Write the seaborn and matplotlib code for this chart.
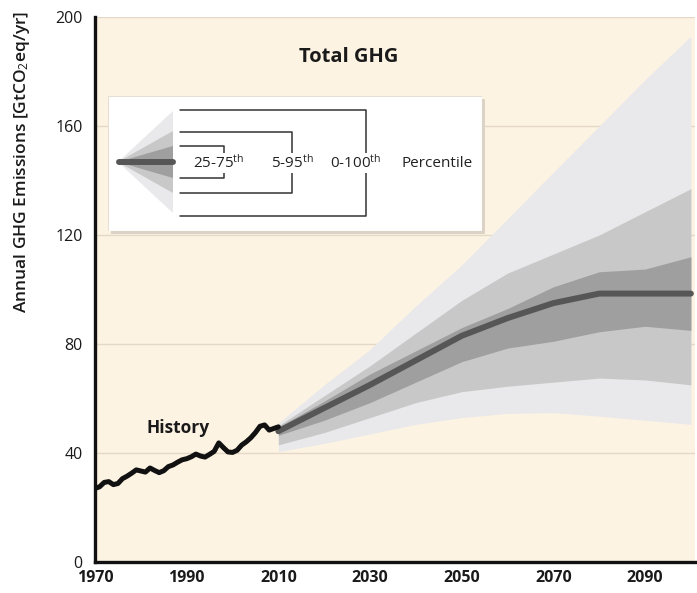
import matplotlib
matplotlib.use("Agg")
import matplotlib.pyplot as plt
import pandas as pd
import seaborn as sns
from matplotlib.patches import Polygon, Rectangle

# Historical emissions, GtCO2eq/yr
hist_years = list(range(1970, 2011))
hist_values = [27.0, 27.6, 29.2, 29.5, 28.4, 28.8, 30.6, 31.5, 32.6, 33.8,
               33.4, 33.0, 34.5, 33.6, 32.8, 33.5, 35.0, 35.6, 36.6, 37.5,
               37.9, 38.6, 39.6, 38.9, 38.5, 39.5, 40.6, 43.7, 42.0, 40.4,
               40.2, 41.0, 42.9, 44.1, 45.6, 47.5, 49.8, 50.3, 48.4, 49.0,
               49.6]

# Baseline scenario percentiles
proj_years = [2010, 2020, 2030, 2040, 2050, 2060, 2070, 2080, 2090, 2100]
p_min = [40.5, 43.5, 47.0, 50.5, 53.0, 54.5, 54.8, 53.5, 52.0, 50.5]
p05 = [43.0, 47.5, 53.0, 58.5, 62.5, 64.5, 66.0, 67.5, 66.8, 65.0]
p25 = [46.5, 52.0, 58.5, 66.0, 73.5, 78.5, 81.0, 84.5, 86.5, 85.0]
p50 = [48.0, 56.5, 65.0, 74.0, 83.0, 89.5, 95.0, 98.5, 98.5, 98.5]
p75 = [49.5, 59.0, 69.0, 77.5, 86.0, 93.0, 101.0, 106.5, 107.5, 112.0]
p95 = [50.0, 61.0, 72.0, 84.0, 96.0, 106.0, 113.0, 120.0, 128.5, 137.0]
p_max = [51.0, 65.0, 78.0, 94.0, 109.0, 126.0, 143.0, 160.0, 177.0, 193.0]

x_ticks = [1970, 1990, 2010, 2030, 2050, 2070, 2090]
y_ticks = [0, 40, 80, 120, 160, 200]

c_light = "#E9E9EB"
c_mid = "#C8C8C8"
c_dark = "#9F9F9F"
c_median = "#565656"
c_bg = "#FDF3E3"
c_grid = "#E4D8C6"

sns.set_style("white")
plt.rcParams["font.family"] = ["Open Sans", "DejaVu Sans"]
plt.rcParams["mathtext.fontset"] = "custom"
plt.rcParams["mathtext.rm"] = "Open Sans"
plt.rcParams["mathtext.it"] = "Open Sans:italic"
plt.rcParams["mathtext.bf"] = "Open Sans:bold"

W, H = 697, 593
fig = plt.figure(figsize=(W / 100, H / 100), dpi=100)
fig.patch.set_facecolor("white")
ax = fig.add_axes([95 / W, 31 / H, 600 / W, 545 / H])
ax.set_facecolor(c_bg)

hist = pd.DataFrame({"year": hist_years, "value": hist_values})
proj = pd.DataFrame({"year": proj_years, "pmin": p_min, "p05": p05,
                     "p25": p25, "p50": p50, "p75": p75, "p95": p95,
                     "pmax": p_max})

ax.fill_between(proj["year"], proj["pmin"], proj["pmax"], color=c_light,
                lw=0, zorder=2)
ax.fill_between(proj["year"], proj["p05"], proj["p95"], color=c_mid,
                lw=0, zorder=3)
ax.fill_between(proj["year"], proj["p25"], proj["p75"], color=c_dark,
                lw=0, zorder=4)
sns.lineplot(data=proj, x="year", y="p50", ax=ax, color=c_median, lw=4.3,
             zorder=5)
sns.lineplot(data=hist, x="year", y="value", ax=ax, color="#111111", lw=3.6,
             zorder=6)

ax.set_xlim(1970, 2100.9)
ax.set_ylim(0, 200)
ax.set_xticks(x_ticks)
ax.set_xticklabels([str(t) for t in x_ticks], fontweight="bold")
ax.set_yticks(y_ticks)
ax.set_yticklabels([str(t) for t in y_ticks])
ax.yaxis.grid(True, color=c_grid, lw=1.0)
ax.xaxis.grid(False)
ax.set_axisbelow(True)
ax.tick_params(axis="x", direction="out", length=4, width=2.2, labelsize=11.5,
               pad=2, colors="#1a1a1a")
ax.tick_params(axis="y", length=0, labelsize=11.5, pad=9, colors="#1a1a1a")
for side in ("top", "right"):
    ax.spines[side].set_visible(False)
for side in ("left", "bottom"):
    ax.spines[side].set_linewidth(2.4)
    ax.spines[side].set_color("#111111")

ax.set_xlabel("")
ax.set_ylabel("Annual GHG Emissions [GtCO$_2$eq/yr]", fontsize=12.5,
              fontweight="semibold", color="#1a1a1a")
ax.yaxis.set_label_coords(-0.105, 0.735)

ax.text(2025.4, 185.3, "Total GHG", fontsize=14.5, fontweight="bold",
        ha="center", va="center", color="#1a1a1a")
ax.text(1988.1, 49.2, "History", fontsize=12.5, fontweight="bold",
        ha="center", va="center", color="#1a1a1a")

# Percentile key, laid out in pixel units of the figure
bx0, bx1, by0, by1 = 108, 482, 96, 231
shadow = Rectangle(((bx0 + 3) / W, 1 - (by1 + 3) / H), (bx1 - bx0) / W,
                   (by1 - by0) / H, transform=fig.transFigure,
                   facecolor="#DCD3C6", edgecolor="none", zorder=9)
fig.patches.append(shadow)
lax = fig.add_axes([bx0 / W, 1 - by1 / H, (bx1 - bx0) / W, (by1 - by0) / H])
lax.set_zorder(10)
lax.set_xlim(bx0, bx1)
lax.set_ylim(by1, by0)
lax.axis("off")
lax.add_patch(Rectangle((bx0, by0), bx1 - bx0, by1 - by0, facecolor="white",
                        edgecolor="#E6DFD5", lw=0.8, zorder=0))

cy = 162
for half, col in ((51, c_light), (31, c_mid), (16, c_dark)):
    lax.add_patch(Polygon([(118, cy), (173, cy - half), (173, cy + half)],
                          closed=True, facecolor=col, edgecolor="none",
                          zorder=1))
lax.plot([119, 173], [cy, cy], color=c_median, lw=4.3, solid_capstyle="round",
         zorder=2)

bracket_kw = dict(color="#333333", lw=1.1, zorder=1)
for top, bot, xr in ((146, 178, 224), (132, 193, 292), (110, 216, 366)):
    lax.plot([180, xr, xr, 180], [top, top, bot, bot], **bracket_kw)

label_kw = dict(fontsize=11, ha="center", va="center", color="#222222",
                zorder=3, bbox=dict(facecolor="white", edgecolor="none",
                                    pad=1.0))
lax.text(219, cy + 1, "25-75$^{\\mathrm{th}}$", **label_kw)
lax.text(292, cy + 1, "5-95$^{\\mathrm{th}}$", **label_kw)
lax.text(356, cy + 1, "0-100$^{\\mathrm{th}}$", **label_kw)
lax.text(437, cy + 1, "Percentile", fontsize=11, ha="center", va="center",
         color="#222222", zorder=3)

fig.savefig("out.png", dpi=100, facecolor="white")
